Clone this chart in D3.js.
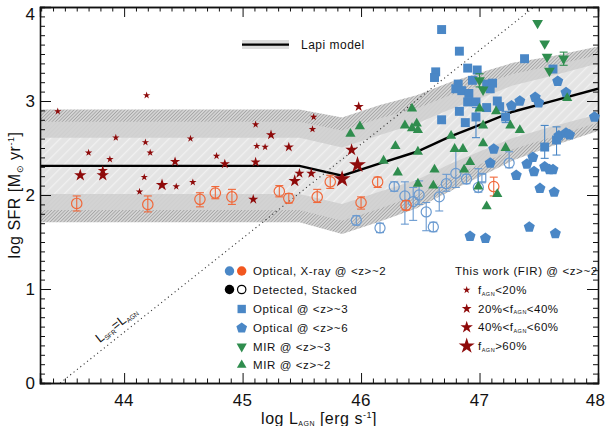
<!DOCTYPE html>
<html><head><meta charset="utf-8">
<script src="https://cdn.jsdelivr.net/npm/d3@7"></script>
<style>body{margin:0;background:#fff}svg{display:block}text{font-family:"Liberation Sans",Arial,sans-serif;fill:#111}</style>
</head><body><svg id="c" width="606" height="426"></svg>
<script>
// ---------------- data ----------------
const xDomain = [43.29, 48];
const yDomain = [0, 4];
const xMajor = [44, 45, 46, 47, 48];
const yMajor = [0, 1, 2, 3, 4];

// Lapi model (central line and half-widths of the three shaded bands)
const modelX = [43.29, 45.48, 45.84, 46.16, 46.47, 46.75, 47.03, 47.28, 47.59, 48.0];
const modelY = [2.31, 2.31, 2.205, 2.337, 2.46, 2.62, 2.76, 2.886, 2.99, 3.13];
const modelW1 = [0.30, 0.30, 0.30, 0.30, 0.30, 0.29, 0.28, 0.28, 0.27, 0.27];
const modelW2 = [0.47, 0.47, 0.48, 0.48, 0.46, 0.44, 0.42, 0.40, 0.38, 0.36];
const modelW3 = [0.60, 0.60, 0.62, 0.62, 0.60, 0.58, 0.55, 0.52, 0.48, 0.45];
const oneToOneOffset = 43.46; // log SFR = log L_AGN - offset

// This work (FIR) stars by f_AGN class
const firSmall = [[43.44,2.89],[43.70,2.45],[43.93,2.61],[43.88,2.38],[44.18,2.56],[44.22,2.45],[44.17,2.19],[44.13,2.035],[44.44,2.09],[44.56,2.60],[44.58,2.135],[44.78,2.415],[44.19,3.06],[45.11,2.75],[45.12,2.52],[45.19,2.51],[45.60,2.83],[45.59,2.70]];
const firMed = [[43.82,2.26],[44.43,2.354],[44.85,2.33],[45.09,1.954],[45.11,2.35],[45.24,2.64],[45.39,2.51],[45.98,2.94],[45.48,2.23],[45.58,2.23]];
const firLarge = [[43.63,2.21],[43.82,2.21],[44.32,2.106],[45.44,2.15],[45.92,2.48]];
const firXL = [[45.84,2.17],[45.97,2.32]];

// Optical, X-ray z~2 stacked (orange) : [x, y, errLow, errHigh]
const orangeStacked = [[43.60,1.91,0.08,0.08],[44.20,1.90,0.08,0.09],[44.64,1.954,0.08,0.07],[44.77,2.02,0.06,0.07],[44.91,1.98,0.08,0.08],[45.31,2.04,0.06,0.06],[45.39,1.965,0.05,0.05],[45.63,1.98,0.06,0.08],[45.74,2.14,0.07,0.07],[46.0,1.92,0.07,0.06],[46.14,2.14,0.06,0.05],[46.38,1.89,0.05,0.05],[47.12,2.09,0.10,0.10]];
// Optical, X-ray z~2 stacked (blue)
const blueStacked = [[45.96,1.73,0.05,0.05],[46.16,1.65,0.05,0.05],[46.28,2.09,0.05,0.05],[46.37,1.99,0.30,0.15],[46.44,1.93,0.20,0.15],[46.49,2.0,0.10,0.15],[46.55,1.82,0.20,0.10],[46.61,1.66,0.05,0.05],[46.66,1.98,0.15,0.10],[46.72,2.12,0.08,0.10],[46.80,2.23,0.15,0.25],[46.89,2.17,0.05,0.05],[46.99,2.08,0.05,0.20],[47.25,2.34,0.05,0.12]];
const blueOpenSquare = [[47.02,2.18,0.05,0.05]];

// Optical z~3 squares
const optZ3 = [[46.68,3.76],[46.83,3.53],[46.63,3.31],[46.62,3.25],[46.90,3.35],[46.98,3.33],[46.94,3.22],[46.82,3.18],[46.80,3.13],[46.85,3.11],[46.91,3.08],[47.06,3.18],[47.11,3.19],[47.09,3.13],[46.90,2.99],[46.97,2.99],[46.83,2.89],[47.06,2.93],[47.15,3.00],[47.17,2.94],[46.68,2.80],[46.88,2.77],[46.97,2.83],[47.22,2.83],[47.38,3.45],[47.62,3.34],[47.55,2.51],[47.65,2.585]];
const optZ3Err = [[46.97,2.83,0.22,0.10],[47.22,2.83,0.06,0.06],[47.55,2.51,0.12,0.23],[47.65,2.585,0.16,0.14]];
// Optical z~6 pentagons
const optZ6 = [[47.27,2.95],[47.34,3.0],[47.47,3.04],[47.50,2.98],[47.66,3.21],[47.73,3.09],[47.97,2.83],[47.12,2.49],[47.09,2.34],[47.31,2.21],[47.40,2.33],[47.45,2.40],[47.46,2.25],[47.55,2.30],[47.59,2.27],[47.62,2.27],[47.51,2.07],[47.63,2.03],[47.42,1.66],[47.64,1.59],[46.92,1.56],[47.05,1.54],[47.67,2.63],[47.73,2.66],[47.76,2.64]];
// MIR z~3 (down triangles) and z~2 (up triangles)
const mirZ3 = [[47.49,3.83],[47.55,3.61],[47.57,3.47],[47.71,3.45],[47.59,3.32],[47.0,3.22],[47.03,3.12]];
const mirZ3Err = [[47.71,3.45,0.07,0.07],[47.0,3.22,0.07,0.07]];
const mirZ2 = [[46.43,2.92],[45.91,2.65],[45.99,2.73],[46.37,2.74],[46.43,2.71],[46.47,2.76],[46.48,2.69],[46.29,2.52],[46.48,2.46],[46.19,2.365],[46.31,2.24],[46.62,2.27],[46.76,2.63],[46.79,2.49],[46.86,2.49],[46.92,2.35],[46.87,2.27],[47.0,2.92],[47.03,2.74],[47.14,2.89],[47.26,2.74],[47.34,2.69],[47.22,2.50],[47.03,2.55],[47.74,3.03],[47.06,1.88],[47.15,2.01],[46.99,2.09],[46.61,2.10],[46.48,2.12]];

const legendLeft = ["Optical, X-ray @ <z>~2","Detected, Stacked","Optical @ <z>~3","Optical @ <z>~6","MIR @ <z>~3","MIR @ <z>~2"];

// ---------------- drawing ----------------
const C = {red:"#8e0a0a", orange:"#f0683a", blue:"#4a87c6", blueOpen:"#6a9ad0", green:"#2f8d4e"};
const svg = d3.select("#c");
const L = 40, R = 598, T = 7, B = 383;
const x = d3.scaleLinear().domain(xDomain).range([L, R]);
const y = d3.scaleLinear().domain(yDomain).range([B, T]);

const defs = svg.append("defs");
function hatch(id, bg, fg, gap, w, ang){
  const p = defs.append("pattern").attr("id", id).attr("patternUnits","userSpaceOnUse")
    .attr("width", gap).attr("height", gap).attr("patternTransform", `rotate(${ang})`);
  p.append("rect").attr("width", gap).attr("height", gap).attr("fill", bg);
  p.append("line").attr("x1",0).attr("y1",0).attr("x2",0).attr("y2",gap).attr("stroke", fg).attr("stroke-width", w);
}
hatch("hDark", "#d4d4d4", "#888888", 2.4, 1, 45);
hatch("hMed", "#d3d3d3", "#cbcbcb", 3, 1, 45);
hatch("hLight", "#e4e4e4", "#f1f1f1", 7, 2.5, 45);

const clip = defs.append("clipPath").attr("id","plotclip");
clip.append("rect").attr("x",L).attr("y",T).attr("width",R-L).attr("height",B-T);

const plot = svg.append("g").attr("clip-path","url(#plotclip)");
const idx = d3.range(modelX.length);
function band(W, fill){
  const a = d3.area().x(i => x(modelX[i])).y0(i => y(modelY[i]-W[i])).y1(i => y(modelY[i]+W[i]));
  plot.append("path").attr("d", a(idx)).attr("fill", fill);
}
band(modelW3, "url(#hDark)");
band(modelW2, "url(#hMed)");
band(modelW1, "url(#hLight)");
plot.append("path").attr("d", d3.line().x(i => x(modelX[i])).y(i => y(modelY[i]))(idx))
  .attr("fill","none").attr("stroke","#000").attr("stroke-width",2.4);

// 1:1 dotted line
plot.append("line").attr("x1", x(oneToOneOffset)).attr("y1", y(0)).attr("x2", x(oneToOneOffset+4.2)).attr("y2", y(4.2))
  .attr("stroke","#333").attr("stroke-width",1.1).attr("stroke-dasharray","1.1,3.2");

// ---------------- axes ----------------
const ax = svg.append("g");
const xMinor = d3.range(44, 48.001, 0.1).map(v => +v.toFixed(1)).concat([43.3,43.4,43.5,43.6,43.7,43.8,43.9]).filter(v => !xMajor.includes(v));
const yMinor = d3.range(0, 4.001, 0.1).map(v => +v.toFixed(1)).filter(v => !yMajor.includes(v));
function axis(gen, vals, size, tr){
  const g = ax.append("g").attr("transform", tr).call(gen.tickValues(vals).tickSize(size).tickFormat(""));
  g.select(".domain").attr("stroke","#111").attr("stroke-width",1.3);
  g.selectAll(".tick line").attr("stroke","#111").attr("stroke-width",1);
  return g;
}
axis(d3.axisBottom(x), xMajor, -10, `translate(0,${B})`);
axis(d3.axisBottom(x), xMinor, -4.5, `translate(0,${B})`);
axis(d3.axisTop(x), xMajor, -10, `translate(0,${T})`);
axis(d3.axisTop(x), xMinor, -4.5, `translate(0,${T})`);
axis(d3.axisLeft(y), yMajor, -11, `translate(${L},0)`);
axis(d3.axisLeft(y), yMinor, -5, `translate(${L},0)`);
axis(d3.axisRight(y), yMajor, -11, `translate(${R},0)`);
axis(d3.axisRight(y), yMinor, -5, `translate(${R},0)`);

xMajor.forEach(v => ax.append("text").attr("x", Math.min(x(v), 595.5)).attr("y", 406).attr("text-anchor","middle")
  .attr("font-size",17).attr("letter-spacing",0.3).text(v));
yMajor.forEach(v => ax.append("text").attr("x", 35).attr("y", Math.max(y(v), 14) + 6).attr("text-anchor","end")
  .attr("font-size",17).text(v));

// axis titles
const xt = svg.append("text").attr("x", 319).attr("y", 424).attr("text-anchor","middle").attr("font-size",16).attr("letter-spacing",0.5);
xt.append("tspan").text("log L");
xt.append("tspan").attr("font-size",7).attr("dy",2).text("AGN");
xt.append("tspan").attr("dy",-2).text(" [erg s");
xt.append("tspan").attr("font-size",9).attr("dy",-6).text("-1");
xt.append("tspan").attr("dy",6).text("]");
const yt = svg.append("text").attr("transform","translate(20,195) rotate(-90)").attr("text-anchor","middle").attr("font-size",16).attr("letter-spacing",0.5);
yt.append("tspan").text("log SFR [M");
yt.append("tspan").attr("font-size",9).attr("dy",3).text("\u2299");
yt.append("tspan").attr("dy",-3).text(" yr");
yt.append("tspan").attr("font-size",9).attr("dy",-6).text("-1");
yt.append("tspan").attr("dy",6).text("]");

// 1:1 label
const lt = svg.append("text").attr("transform",`translate(119,328) rotate(-38.4)`).attr("text-anchor","middle").attr("font-size",13);
lt.append("tspan").text("L");
lt.append("tspan").attr("font-size",6.5).attr("dy",2).text("SFR");
lt.append("tspan").attr("dy",-2).text("=L");
lt.append("tspan").attr("font-size",6.5).attr("dy",2).text("AGN");

// ---------------- markers ----------------
const pentagon = {draw(ctx, size){ const r = Math.sqrt(size/2.378); for(let i=0;i<5;i++){ const a = -Math.PI/2 + i*2*Math.PI/5; const px=r*Math.cos(a), py=r*Math.sin(a); if(i===0) ctx.moveTo(px,py); else ctx.lineTo(px,py);} ctx.closePath(); }};
const sym = (type, size) => d3.symbol().type(type).size(size)();
const pts = svg.append("g");
function errbars(data, color, cap){
  data.forEach(d => {
    const g = pts.append("g").attr("stroke", color).attr("stroke-width",1.1).attr("fill","none");
    g.append("line").attr("x1",x(d[0])).attr("x2",x(d[0])).attr("y1",y(d[1]-d[2])).attr("y2",y(d[1]+d[3]));
    [d[1]-d[2], d[1]+d[3]].forEach(v => g.append("line").attr("x1",x(d[0])-cap).attr("x2",x(d[0])+cap).attr("y1",y(v)).attr("y2",y(v)));
  });
}
function marks(data, path, fill, stroke, rot){
  pts.selectAll(null).data(data).join("path").attr("d", path)
    .attr("transform", d => `translate(${x(d[0])},${y(d[1])})${rot?` rotate(${rot})`:""}`)
    .attr("fill", fill).attr("stroke", stroke || "none").attr("stroke-width", stroke ? 1.2 : 0);
}
errbars(blueStacked, C.blueOpen, 4);
marks(blueStacked, sym(d3.symbolCircle, 80), "none", C.blueOpen);
errbars(blueOpenSquare, C.blueOpen, 4);
marks(blueOpenSquare, sym(d3.symbolSquare, 60), "none", C.blueOpen);
errbars(orangeStacked, C.orange, 4);
marks(orangeStacked, sym(d3.symbolCircle, 85), "none", C.orange);
errbars(optZ3Err, C.blue, 4);
marks(optZ3, sym(d3.symbolSquare, 80), C.blue);
marks(optZ6, sym(pentagon, 80), C.blue);
errbars(mirZ3Err, C.green, 4);
marks(mirZ3, sym(d3.symbolTriangle, 50), C.green, null, 180);
marks(mirZ2, sym(d3.symbolTriangle, 45), C.green);
marks(firSmall, sym(d3.symbolStar, 17), C.red);
marks(firMed, sym(d3.symbolStar, 32), C.red);
marks(firLarge, sym(d3.symbolStar, 48), C.red);
marks(firXL, sym(d3.symbolStar, 88), C.red);

// ---------------- legends ----------------
const lg = svg.append("g");
// Lapi model
lg.append("rect").attr("x",242).attr("y",40).attr("width",47).attr("height",9).attr("fill","#dcdcdc");
lg.append("line").attr("x1",242).attr("x2",289).attr("y1",44.7).attr("y2",44.7).attr("stroke","#000").attr("stroke-width",2.2);
lg.append("text").attr("x",301).attr("y",49).attr("font-size",12).attr("letter-spacing",0.5).text("Lapi model");

const rowsY = [271, 289.5, 309, 328, 346.5, 365];
const fs = 11.5;
legendLeft.forEach((t,i) => lg.append("text").attr("x",253).attr("y",rowsY[i]+4).attr("font-size",fs).attr("letter-spacing",0.6).text(t));
const lm = (path, cx, cy, fill, stroke, rot) => lg.append("path").attr("d", path)
  .attr("transform", `translate(${cx},${cy})${rot?` rotate(${rot})`:""}`).attr("fill", fill).attr("stroke", stroke||"none").attr("stroke-width",1.2);
lm(sym(d3.symbolCircle, 70), 229.5, rowsY[0], C.blue);
lm(sym(d3.symbolCircle, 70), 241.7, rowsY[0], "#f2571f");
lm(sym(d3.symbolCircle, 70), 229.5, rowsY[1], "#000");
lm(sym(d3.symbolCircle, 55), 241.7, rowsY[1], "none", "#000");
lm(sym(d3.symbolSquare, 70), 241.7, rowsY[2], C.blue);
lm(sym(pentagon, 75), 241.7, rowsY[3], C.blue);
lm(sym(d3.symbolTriangle, 45), 241.7, rowsY[4], C.green, null, 180);
lm(sym(d3.symbolTriangle, 40), 241.7, rowsY[5], C.green);

lg.append("text").attr("x",455).attr("y",275).attr("font-size",fs).attr("letter-spacing",0.6).text("This work (FIR) @ <z>~2");
const starSizes = [17, 30, 48, 80];
const starLabels = [["","<20%"],["20%<","<40%"],["40%<","<60%"],["",">60%"]];
const starRows = [290, 308.7, 327.3, 346];
starLabels.forEach((s,i) => {
  lm(sym(d3.symbolStar, starSizes[i]), 466.7, starRows[i], C.red);
  const t = lg.append("text").attr("x",478).attr("y",starRows[i]+4).attr("font-size",fs).attr("letter-spacing",0.5);
  t.append("tspan").text(s[0] + "f");
  t.append("tspan").attr("font-size",5.5).attr("dy",1.5).text("AGN");
  t.append("tspan").attr("dy",-1.5).text(s[1]);
});
</script></body></html>
